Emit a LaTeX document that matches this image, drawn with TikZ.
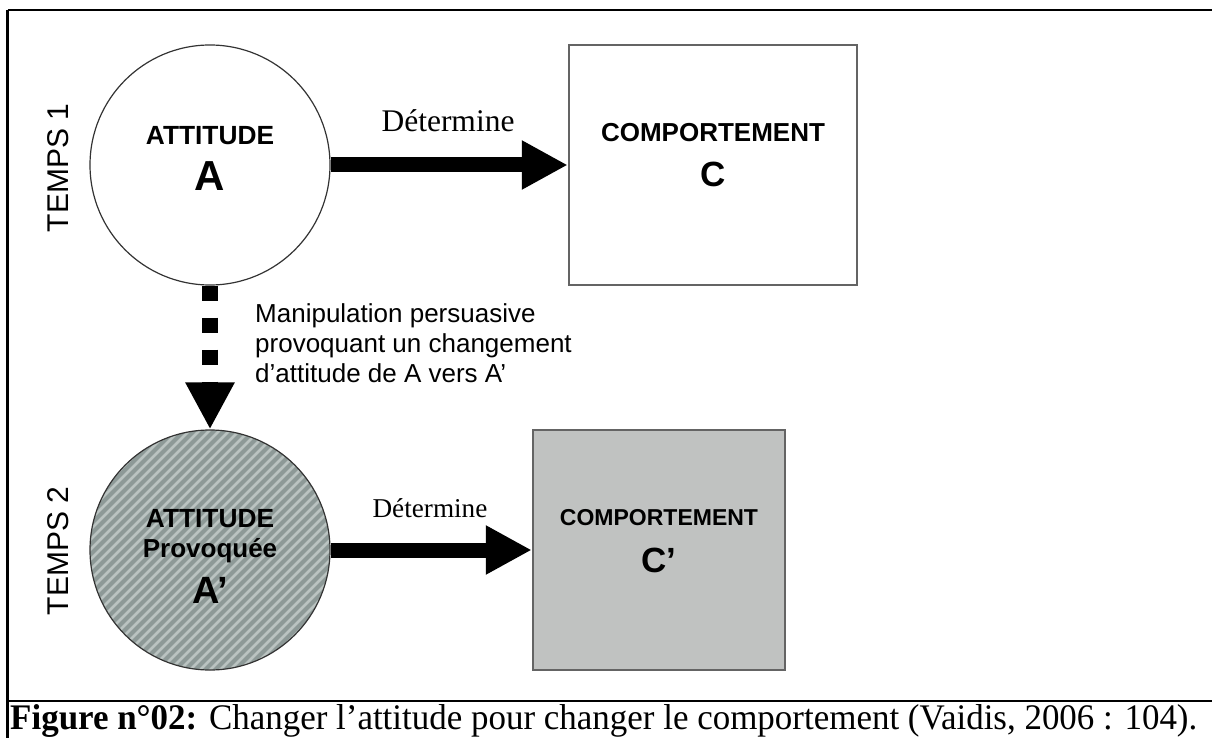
\documentclass[tikz,border=0pt]{standalone}
\usepackage{fontspec}
\usepackage{graphicx}
\setmainfont{Liberation Serif}
\setsansfont{Liberation Sans}
\usetikzlibrary{arrows.meta}

\definecolor{hatchbase}{RGB}{141,153,151}
\definecolor{hatchlight}{RGB}{186,195,193}
\definecolor{boxfill}{RGB}{192,194,193}
\definecolor{boxline}{RGB}{100,100,100}

\begin{document}
\begin{tikzpicture}[%
      x=1pt, y=-1pt,
      frameline/.style={color=black, line width=2.2pt},
      attnode/.style={circle, draw=black!80, line width=1.2pt, minimum size=240pt, inner sep=0pt},
      compnode/.style={rectangle, draw=boxline, line width=2.5pt, minimum height=240pt, inner sep=0pt},
      bigarrow/.style={line width=15pt, -{Triangle[length=46pt,width=46pt]}},
      dasharrow/.style={line width=16pt, dash pattern=on 15pt off 17pt, -{Triangle[length=47pt,width=46pt]}},
      sflabel/.style={font=\sffamily, anchor=base, inner sep=0pt},
      serlabel/.style={font=\rmfamily, anchor=base, inner sep=0pt},
      ]
      \useasboundingbox (0,0) rectangle (1212,738);

      % cadre du tableau
      \draw [frameline] (7.5,10) -- (1212,10);
      \draw [frameline] (7.5,10) -- (7.5,738);
      \draw [frameline] (7.5,701) -- (1212,701);

      % temps 1
      \node [attnode] (attA) at (210,165) {};
      \node [compnode, minimum width=288pt] (compC) at (713,165) {};

      % temps 2 : fond hachure
      \fill [hatchbase] (210,550) circle (120);
      \begin{scope}
      \clip (210,550) circle (120);
      \foreach \k in {-160,-150,...,340}
        \draw [hatchlight, line width=2.8pt] (\k,680) -- ++(260,-260);
      \end{scope}
      \node [attnode] (attAp) at (210,550) {};
      \node [compnode, minimum width=252pt, fill=boxfill] (compCp) at (659,550) {};

      \draw [bigarrow] (attA) -- (compC);
      \draw [bigarrow] (attAp) -- (compCp);
      \draw [dasharrow] (attA) -- (attAp);

      \node [sflabel, rotate=90] (temps1) at (68,168) {\fontsize{30}{34}\selectfont TEMPS 1};
      \node [sflabel, rotate=90] (temps2) at (68,551) {\fontsize{30}{34}\selectfont TEMPS 2};

      \node [sflabel] (attAtxt) at (210,145) {\fontsize{26.3}{30}\selectfont\bfseries ATTITUDE};
      \node [sflabel] (attAlet) at (210,190) {\fontsize{42}{46}\selectfont\bfseries A};
      \node [sflabel] (attAptxt) at (210,527) {\fontsize{26.3}{30}\selectfont\bfseries ATTITUDE};
      \node [sflabel] (attAprov) at (210,557) {\fontsize{26}{30}\selectfont\bfseries Provoquée};
      \node [sflabel] (attAplet) at (210,603) {\fontsize{38}{42}\selectfont\bfseries A’};

      \node [sflabel] (compCtxt) at (713,142) {\fontsize{26}{30}\selectfont\bfseries COMPORTEMENT};
      \node [sflabel] (compClet) at (713,187) {\fontsize{35}{40}\selectfont\bfseries C};
      \node [sflabel] (compCptxt) at (659,525) {\fontsize{23}{27}\selectfont\bfseries COMPORTEMENT};
      \node [sflabel] (compCplet) at (659,572) {\fontsize{35}{40}\selectfont\bfseries C’};

      \node [serlabel] (det1) at (448,132) {\fontsize{31.5}{35}\selectfont Détermine};
      \node [serlabel] (det2) at (430,517) {\fontsize{27.2}{31}\selectfont Détermine};

      \node [font=\sffamily\fontsize{26}{30}\selectfont, anchor=north west, inner sep=0pt, align=left] (manip) at (255,303)
        {Manipulation persuasive\\provoquant un changement\\d’attitude de A vers A’};

      \node [serlabel, anchor=base west] (caption) at (10,729)
        {\resizebox{1187pt}{\height}{\fontsize{36}{40}\selectfont\textbf{Figure n°02:} Changer l’attitude pour changer le comportement (Vaidis, 2006 : 104).}};
\end{tikzpicture}
\end{document}
